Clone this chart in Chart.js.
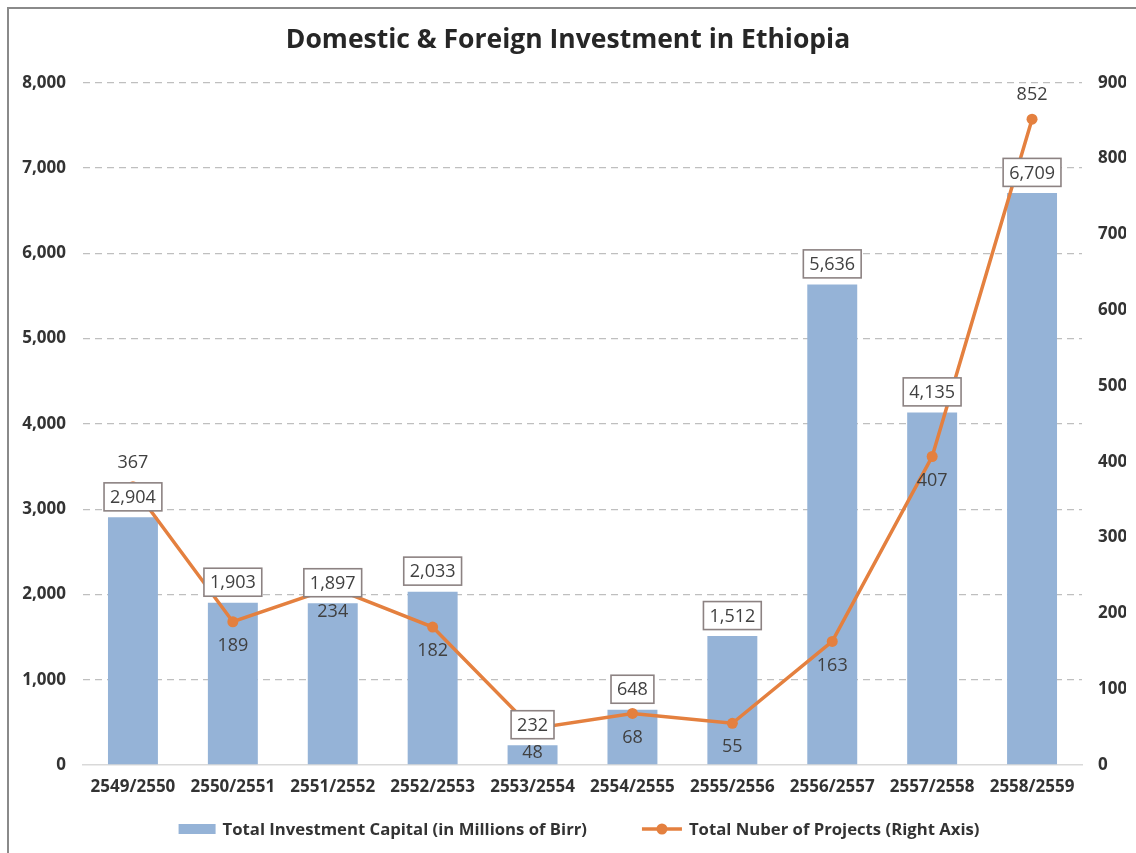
<!DOCTYPE html>
<html>
<head>
<meta charset="utf-8">
<script src="https://cdn.jsdelivr.net/npm/chart.js@4/dist/chart.umd.min.js"></script>
<style>
  html, body { margin: 0; padding: 0; background: #ffffff; }
  #wrap { position: relative; width: 1136px; height: 853px; }
  #frame { position: absolute; left: 7px; top: 7px; width: 1140px; height: 860px; border-left: 2px solid #8a8a8a; border-top: 2px solid #8a8a8a; pointer-events: none; }
  canvas { display: block; }
</style>
</head>
<body>
<div id="wrap">
  <canvas id="c" width="1136" height="853"></canvas>
  <div id="frame"></div>
</div>
<script>
const chartTitle = 'Domestic & Foreign Investment in Ethiopia';
const categories = ['2549/2550', '2550/2551', '2551/2552', '2552/2553', '2553/2554', '2554/2555', '2555/2556', '2556/2557', '2557/2558', '2558/2559'];
const investmentCapital = [2904, 1903, 1897, 2033, 232, 648, 1512, 5636, 4135, 6709];
const numberOfProjects = [367, 189, 234, 182, 48, 68, 55, 163, 407, 852];
const seriesNames = ['Total Investment Capital (in Millions of Birr)', 'Total Nuber of Projects (Right Axis)'];

const FONT = '"Open Sans", "DejaVu Sans", sans-serif';
const BAR_COLOR = '#95B3D7';
const LINE_COLOR = '#E4803F';
const TEXT_DARK = '#333333';
const LABEL_COLOR = '#404040';

const fmt = v => v.toLocaleString('en-US');

const labelPlugin = {
  id: 'valueLabels',
  afterDatasetsDraw(chart, args, opts) {
    const ctx = chart.ctx;
    ctx.save();
    ctx.font = '18px ' + FONT;
    ctx.textAlign = 'center';
    ctx.textBaseline = 'middle';
    const lineMeta = chart.getDatasetMeta(1);
    const lineData = chart.data.datasets[1].data;
    lineMeta.data.forEach((pt, i) => {
      const above = opts.lineAbove.includes(i);
      ctx.fillStyle = LABEL_COLOR;
      ctx.fillText(fmt(lineData[i]), pt.x, pt.y + (above ? -24 : 24));
    });
    const barMeta = chart.getDatasetMeta(0);
    const barData = chart.data.datasets[0].data;
    barMeta.data.forEach((bar, i) => {
      const txt = fmt(barData[i]);
      const w = ctx.measureText(txt).width + 12;
      const h = 28;
      const cy = bar.y - 20.5;
      ctx.fillStyle = '#ffffff';
      ctx.fillRect(bar.x - w / 2, cy - h / 2, w, h);
      ctx.strokeStyle = '#8C8282';
      ctx.lineWidth = 1.6;
      ctx.strokeRect(bar.x - w / 2, cy - h / 2, w, h);
      ctx.fillStyle = LABEL_COLOR;
      ctx.fillText(txt, bar.x, cy + 1);
    });
    ctx.restore();
  }
};

const legendPlugin = {
  id: 'customLegend',
  afterDraw(chart, args, opts) {
    const ctx = chart.ctx;
    ctx.save();
    ctx.font = 'bold 16.7px ' + FONT;
    ctx.textBaseline = 'middle';
    ctx.textAlign = 'left';
    const y = opts.y;
    const boxW = 37, lineW = 40, gapText = 7, gapItems = 55;
    const t1 = ctx.measureText(seriesNames[0]).width;
    const t2 = ctx.measureText(seriesNames[1]).width;
    const total = boxW + gapText + t1 + gapItems + lineW + gapText + t2;
    let x = opts.centerX - total / 2;
    ctx.fillStyle = BAR_COLOR;
    ctx.fillRect(x, y - 5, boxW, 10);
    x += boxW + gapText;
    ctx.fillStyle = TEXT_DARK;
    ctx.fillText(seriesNames[0], x, y + 1);
    x += t1 + gapItems;
    ctx.strokeStyle = LINE_COLOR;
    ctx.lineWidth = 3.5;
    ctx.beginPath();
    ctx.moveTo(x, y);
    ctx.lineTo(x + lineW, y);
    ctx.stroke();
    ctx.fillStyle = LINE_COLOR;
    ctx.beginPath();
    ctx.arc(x + lineW / 2, y, 5.5, 0, Math.PI * 2);
    ctx.fill();
    x += lineW + gapText;
    ctx.fillStyle = TEXT_DARK;
    ctx.fillText(seriesNames[1], x, y + 1);
    ctx.restore();
  }
};

new Chart(document.getElementById('c'), {
  type: 'bar',
  data: {
    labels: categories,
    datasets: [
      {
        type: 'bar',
        label: seriesNames[0],
        data: investmentCapital,
        backgroundColor: BAR_COLOR,
        yAxisID: 'y',
        order: 2,
        categoryPercentage: 1,
        barPercentage: 0.5
      },
      {
        type: 'line',
        label: seriesNames[1],
        data: numberOfProjects,
        borderColor: LINE_COLOR,
        backgroundColor: LINE_COLOR,
        borderWidth: 3.5,
        pointRadius: 5.5,
        pointBackgroundColor: LINE_COLOR,
        pointBorderWidth: 0,
        tension: 0,
        yAxisID: 'y1',
        order: 1
      }
    ]
  },
  options: {
    responsive: false,
    animation: false,
    devicePixelRatio: 1,
    layout: { padding: { top: 10, left: 10, right: 10, bottom: 43 } },
    plugins: {
      legend: { display: false },
      tooltip: { enabled: false },
      title: {
        display: true,
        text: chartTitle,
        color: '#262626',
        font: { family: FONT, size: 26.5, weight: 'bold' },
        padding: { top: 15, bottom: 26 }
      },
      valueLabels: { lineAbove: [0, 9] },
      customLegend: { y: 829, centerX: 579 }
    },
    scales: {
      x: {
        grid: { display: false, drawTicks: false },
        border: { display: true, color: '#D9D9D9', width: 1.5 },
        ticks: { color: TEXT_DARK, font: { family: FONT, size: 17, weight: 'bold' }, padding: 12, maxRotation: 0, autoSkip: false },
        afterFit(scale) { scale.height = 45; }
      },
      y: {
        position: 'left',
        min: 0, max: 8000,
        ticks: { stepSize: 1000, color: TEXT_DARK, font: { family: FONT, size: 17, weight: 'bold' }, padding: 17, callback: v => fmt(v) },
        grid: {
          drawTicks: false,
          color: ctx => ctx.tick && ctx.tick.value === 0 ? 'rgba(0,0,0,0)' : '#BFBFBF',
          lineWidth: 1.3
        },
        border: { display: false, dash: [7, 5] },
        afterFit(scale) { scale.width = 73; }
      },
      y1: {
        position: 'right',
        min: 0, max: 900,
        ticks: { stepSize: 100, color: TEXT_DARK, font: { family: FONT, size: 17, weight: 'bold' }, padding: 16, callback: v => fmt(v) },
        grid: { display: false, drawTicks: false },
        border: { display: false },
        afterFit(scale) { scale.width = 44; }
      }
    }
  },
  plugins: [labelPlugin, legendPlugin]
});
</script>
</body>
</html>
